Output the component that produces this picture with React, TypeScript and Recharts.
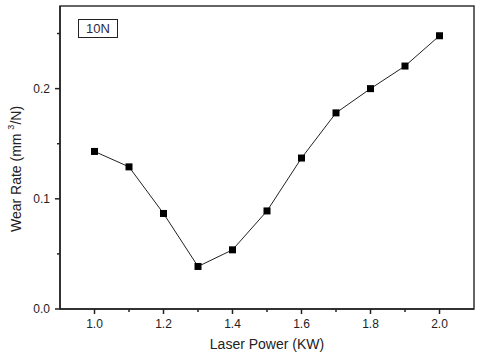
import React from "react";
import {
  LineChart,
  Line,
  XAxis,
  YAxis,
  ReferenceArea,
  Label,
} from "recharts";

const laserPower = [1.0, 1.1, 1.2, 1.3, 1.4, 1.5, 1.6, 1.7, 1.8, 1.9, 2.0];
const wearRate = [0.143, 0.129, 0.0867, 0.0386, 0.0537, 0.089, 0.137, 0.178, 0.2, 0.2205, 0.248];

const xTicks = [1.0, 1.1, 1.2, 1.3, 1.4, 1.5, 1.6, 1.7, 1.8, 1.9, 2.0];
const xMajor = ["1.0", "1.2", "1.4", "1.6", "1.8", "2.0"];
const yTicks = [0, 0.05, 0.1, 0.15, 0.2, 0.25];
const yMajor = ["0.0", "0.1", "0.2"];

const INK = "#222";
const FONT = "'Liberation Sans', Arial, sans-serif";

const data = laserPower.map((p, i) => ({ power: p, wear: wearRate[i] }));

function XTick(props: any) {
  const { x, y, payload } = props;
  const label = Number(payload.value).toFixed(1);
  const major = xMajor.includes(label);
  return (
    <g>
      <line x1={x} x2={x} y1={y} y2={y + (major ? 5 : 3)} stroke={INK} strokeWidth={1.5} />
      {major && (
        <text x={x} y={y + 19} textAnchor="middle" fontSize={12} fill={INK} fontFamily={FONT}>
          {label}
        </text>
      )}
    </g>
  );
}

function YTick(props: any) {
  const { x, y, payload } = props;
  const v = Number(payload.value);
  const label = v.toFixed(1);
  const major = yMajor.includes(label) && Math.abs(v * 10 - Math.round(v * 10)) < 1e-6;
  return (
    <g>
      <line x1={x} x2={x - (major ? 5 : 3)} y1={y} y2={y} stroke={INK} strokeWidth={1.5} />
      {major && (
        <text x={x - 10} y={y + 4} textAnchor="end" fontSize={12} fill={INK} fontFamily={FONT}>
          {label}
        </text>
      )}
    </g>
  );
}

function SquareDot(props: any) {
  const { cx, cy } = props;
  if (cx == null || cy == null) return null;
  return <rect x={cx - 3.5} y={cy - 3.5} width={7} height={7} fill="#000" />;
}

function YLabel() {
  const cx = 16;
  const cy = 169;
  return (
    <text
      x={cx}
      y={cy}
      transform={`rotate(-90, ${cx}, ${cy})`}
      textAnchor="middle"
      dominantBaseline="central"
      fontSize={14}
      fill={INK}
      fontFamily={FONT}
    >
      Wear Rate (mm{" "}
      <tspan dy={-5} fontSize={9}>3</tspan>
      <tspan dy={5}>/N)</tspan>
    </text>
  );
}

function XLabel(props: any) {
  const vb = props.viewBox || { x: 60, width: 414 };
  return (
    <text
      x={vb.x + vb.width / 2}
      y={349}
      textAnchor="middle"
      fontSize={14}
      fill={INK}
      fontFamily={FONT}
    >
      Laser Power (KW)
    </text>
  );
}

export default function App() {
  return (
    <div style={{ position: "absolute", left: 0, top: 0, width: 480, height: 359, background: "#fff" }}>
      <LineChart
        width={480}
        height={359}
        data={data}
        margin={{ top: 6, right: 6, left: 0, bottom: 0 }}
      >
        <ReferenceArea
          x1={0.9}
          x2={2.1}
          y1={0}
          y2={0.275}
          fill="none"
          stroke="#333"
          strokeWidth={1.5}
        />
        <XAxis
          dataKey="power"
          type="number"
          domain={[0.9, 2.1]}
          ticks={xTicks}
          interval={0}
          height={50}
          tickSize={0}
          tickMargin={0}
          tickLine={false}
          tick={<XTick />}
          axisLine={{ stroke: INK, strokeWidth: 1.5 }}
        >
          <Label content={<XLabel />} />
        </XAxis>
        <YAxis
          type="number"
          domain={[0, 0.275]}
          ticks={yTicks}
          interval={0}
          width={60}
          tickSize={0}
          tickMargin={0}
          tickLine={false}
          tick={<YTick />}
          axisLine={{ stroke: INK, strokeWidth: 1.5 }}
        >
          <Label content={<YLabel />} />
        </YAxis>
        <Line
          type="linear"
          dataKey="wear"
          stroke={INK}
          strokeWidth={1}
          dot={<SquareDot />}
          activeDot={false}
          isAnimationActive={false}
        />
      </LineChart>
      <div
        style={{
          position: "absolute",
          left: 78,
          top: 19,
          width: 38,
          height: 17,
          border: `1.5px solid ${INK}`,
          fontFamily: FONT,
          fontSize: 13,
          color: "#2a2a44",
          textAlign: "center",
          lineHeight: "17px",
        }}
      >
        10N
      </div>
    </div>
  );
}
